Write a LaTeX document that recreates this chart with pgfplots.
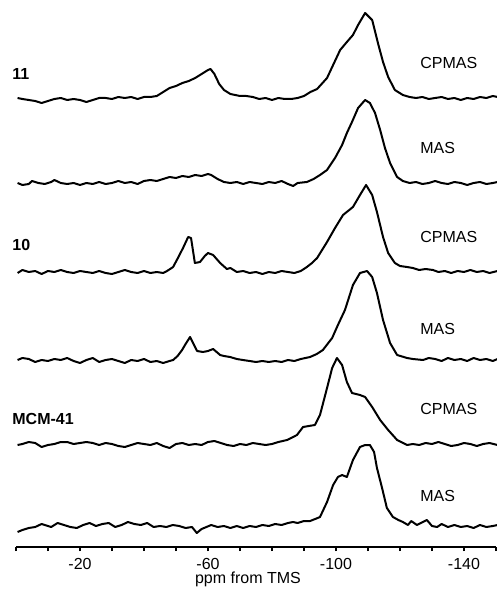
\documentclass[border=0pt]{standalone}
\usepackage{fontspec}
\setmainfont{Liberation Sans}
\usepackage{pgfplots}
\pgfplotsset{compat=1.18}
\begin{document}
\begin{tikzpicture}
\useasboundingbox (-8pt,-23.5pt) rectangle (240.5pt,273.5pt);
\begin{axis}[
  at={(0pt,0pt)}, anchor=south west,
  scale only axis, width=240pt, height=273.5pt,
  xmin=-150, xmax=0, ymin=0, ymax=547,
  x dir=reverse,
  axis x line*=bottom, axis y line=none,
  xtick={-140,-100,-60,-20}, minor xtick={0,-10,...,-150},
  tick align=outside, major tick length=2pt, minor tick length=2pt,
  tick style={black, line width=0.8pt},
  x axis line style={line width=1pt},
  ticklabel style={font=\fontsize{8}{9.6}\selectfont},
  /pgf/number format/assume math mode=true,
  clip=false,
  every axis plot post/.append style={black, solid, line width=1pt, line join=round, mark=none},
]
% 11 CPMAS
\addplot coordinates {(-0.5,449)(-2,448)(-4,447)(-6,446)(-8,444)(-10,446)(-12,448)(-14,449)(-16,447)(-18,448)(-20,447)(-22,445)(-24,447)(-26,449)(-28,449)(-30,448)(-32,450)(-34,449)(-36,450)(-38,448)(-40,450)(-42,450)(-44,451)(-46,455)(-48,459)(-50,461)(-52,464)(-54,466)(-56,469)(-58,473)(-60,477)(-60.8,478)(-62,473)(-63.5,463)(-65,457)(-67,453)(-70,451)(-72,451)(-74,450)(-76,448)(-78,449)(-80,447)(-82,449)(-84,448)(-86,448)(-88,449)(-90,451)(-92,455)(-94.1,458)(-97.2,469)(-99.1,482)(-101.3,497)(-103.4,505)(-105.3,512)(-106.9,522)(-109.1,534)(-111.3,527)(-113.1,504)(-114.7,485)(-116.3,470)(-118.4,457)(-120.9,452)(-123,450)(-125,449)(-127,450)(-129,448)(-131,449)(-133,450)(-135,448)(-137,449)(-139,447)(-141,449)(-143,448)(-145,450)(-147,449)(-149,451)(-150.5,450)};
% 11 MAS
\addplot coordinates {(-0.5,364)(-2,362)(-4,363)(-5,366)(-7,364)(-9,363)(-11,365)(-12,367)(-14,364)(-16,363)(-18,364)(-20,362)(-22,364)(-24,363)(-26,365)(-28,363)(-30,364)(-32,366)(-34,364)(-36,365)(-38,363)(-40,366)(-42,367)(-44,366)(-46,368)(-48,370)(-50,369)(-52,371)(-54,370)(-56,372)(-58,371)(-60,373)(-61,372)(-63,368)(-65,365)(-67,364)(-69,365)(-71,363)(-73,365)(-75,364)(-77,363)(-79,365)(-81,364)(-83,366)(-85,363)(-86.6,361)(-88,364)(-90.9,365)(-93,368)(-95,372)(-97.2,377)(-99.7,389)(-101.9,402)(-103.4,414)(-105,425)(-106.9,439)(-109.1,447)(-110.6,444)(-112.2,434)(-113.8,417)(-115.3,399)(-116.9,384)(-119.1,370)(-120.9,366)(-123,364)(-125,365)(-127,363)(-129,364)(-131,366)(-133,364)(-135,363)(-137,365)(-139,364)(-141,362)(-143,364)(-145,365)(-147,363)(-149,364)(-150.5,365)};
% 10 CPMAS
\addplot coordinates {(-0.5,274)(-2,277)(-4,275)(-6,276)(-8,273)(-10,276)(-12,275)(-14,277)(-16,275)(-18,274)(-20,276)(-22,275)(-24,274)(-26,276)(-28,274)(-30,273)(-32,275)(-34,277)(-36,275)(-38,274)(-40,276)(-42,274)(-44,275)(-46,274)(-47.2,276)(-49.1,280)(-50.6,289)(-52.2,299)(-53.8,310)(-54.7,309)(-55.9,284)(-57.5,285)(-59,291)(-60,294)(-61.6,292)(-63.8,284)(-65.9,278)(-67,279)(-69,275)(-71,276)(-73,274)(-75,275)(-77,273)(-79,275)(-81,274)(-83,276)(-85,275)(-87,274)(-89,276)(-90.9,280)(-92.5,284)(-94.1,289)(-97.2,305)(-99.7,319)(-102.2,332)(-105.3,340)(-107.5,352)(-109.4,362)(-111.3,352)(-112.8,335)(-114.7,310)(-116.3,294)(-118.4,284)(-120,281)(-122.2,280)(-124,279)(-126,277)(-128,278)(-130.3,277)(-132,275)(-134,276)(-136,274)(-138,276)(-140,275)(-142,277)(-144,275)(-146,276)(-148,274)(-150.5,276)};
% 10 MAS
\addplot coordinates {(-0.5,187)(-2,189)(-4,188)(-6,185)(-8,187)(-10,186)(-12,188)(-14,187)(-16,189)(-18,186)(-20,184)(-22,187)(-24,189)(-26,185)(-28,187)(-30,188)(-32,186)(-34,184)(-36,187)(-38,186)(-40,188)(-42,185)(-44,186)(-46,184)(-48,186)(-49.1,187)(-50.5,191)(-51.9,197)(-53,203)(-54.4,210)(-55.5,203)(-56.6,196)(-58.4,195)(-60,196)(-61.6,198)(-63.8,192)(-65,191)(-66.9,190)(-69,188)(-70.9,187)(-73,186)(-75,185)(-77,186)(-79,185)(-81,186)(-83,185)(-85,187)(-87,186)(-89,188)(-91.9,190)(-94,193)(-95.9,197)(-98.8,209)(-100.6,222)(-102.8,237)(-105.3,262)(-107.5,274)(-109.7,276)(-111.3,270)(-112.8,254)(-114.7,227)(-116.9,204)(-119.1,192)(-122.2,189)(-124,188)(-127.2,187)(-129,189)(-131,188)(-133,186)(-135,189)(-137,187)(-139,188)(-141,186)(-143,189)(-145,187)(-147,188)(-149,186)(-150.5,188)};
% MCM-41 CPMAS
\addplot coordinates {(-0.5,102)(-2,103)(-4,105)(-6,104)(-8,100)(-10,102)(-12,103)(-14,105)(-16,105)(-18,103)(-20,104)(-22,105)(-24,104)(-26,102)(-28,104)(-30,103)(-32,101)(-34,100)(-36,102)(-38,104)(-40,103)(-42,102)(-44,104)(-46,101)(-48,99)(-50,103)(-52,104)(-54,102)(-56,103)(-58,102)(-60,105)(-62,106)(-64,104)(-66,102)(-68,101)(-70,103)(-72,102)(-74,104)(-76,103)(-78,102)(-80,103)(-82,105)(-84.7,107)(-86,109)(-87.8,112)(-89.7,120)(-91.5,121)(-93.4,122)(-95,132)(-97.2,159)(-98.8,179)(-100.3,189)(-101.9,182)(-103.4,165)(-105,154)(-107.5,152)(-109.1,150)(-111.3,140)(-113.8,127)(-116.3,117)(-119.1,107)(-122.2,102)(-124,103)(-126,102)(-128,104)(-130,103)(-132,105)(-134,103)(-136,101)(-138,102)(-140,104)(-142,103)(-144,101)(-146,103)(-148,104)(-150.5,102)};
% MCM-41 MAS
\addplot coordinates {(-0.5,15)(-2,17)(-4,19)(-6,20)(-8,23)(-10,21)(-11,20)(-13,24)(-15,22)(-17,20)(-19,19)(-21,22)(-23,24)(-25,21)(-27,23)(-29,24)(-31,20)(-33,22)(-35,25)(-37,23)(-39,22)(-41,24)(-43,20)(-45,21)(-47,20)(-49,22)(-51,21)(-53,19)(-55,20)(-56.5,14)(-58,18)(-59.5,20)(-61,22)(-63,20)(-65,21)(-67,19)(-69,21)(-71,19)(-73,21)(-75,20)(-77,22)(-79,21)(-81,23)(-83,22)(-85,24)(-86.6,25)(-88,24)(-90,26)(-91.9,26)(-93.5,28)(-95,30)(-97.2,45)(-99.1,62)(-100.6,70)(-101.9,72)(-103.4,70)(-105.3,87)(-107.5,100)(-109.1,102)(-110.6,102)(-111.9,95)(-112.8,79)(-114.4,59)(-115.9,39)(-117.8,30)(-119.5,27)(-120.9,25)(-122.5,22)(-123.5,26)(-125.3,22)(-126.5,24)(-128.4,27)(-130,21)(-131.6,20)(-133,23)(-135,20)(-137,22)(-139,20)(-141,21)(-143,19)(-145,22)(-147,20)(-149,21)(-150.5,22)};
% labels
\begin{scope}[every node/.style={font=\fontsize{8}{9.6}\selectfont, inner sep=0pt}]
\node[anchor=base west] at (axis cs:1.25,467) {\bfseries 11};
\node[anchor=base west] at (axis cs:1.25,296) {\bfseries 10};
\node[anchor=base west] at (axis cs:1.25,123) {\bfseries MCM-41};
\node[anchor=base west] at (axis cs:-126.25,478) {CPMAS};
\node[anchor=base west] at (axis cs:-126.25,393) {MAS};
\node[anchor=base west] at (axis cs:-126.25,304) {CPMAS};
\node[anchor=base west] at (axis cs:-126.25,213) {MAS};
\node[anchor=base west] at (axis cs:-126.25,133) {CPMAS};
\node[anchor=base west] at (axis cs:-126.25,46) {MAS};
\node[anchor=base] at (axis cs:-72.5,-36) {ppm from TMS};
\end{scope}
\end{axis}
\end{tikzpicture}
\end{document}
